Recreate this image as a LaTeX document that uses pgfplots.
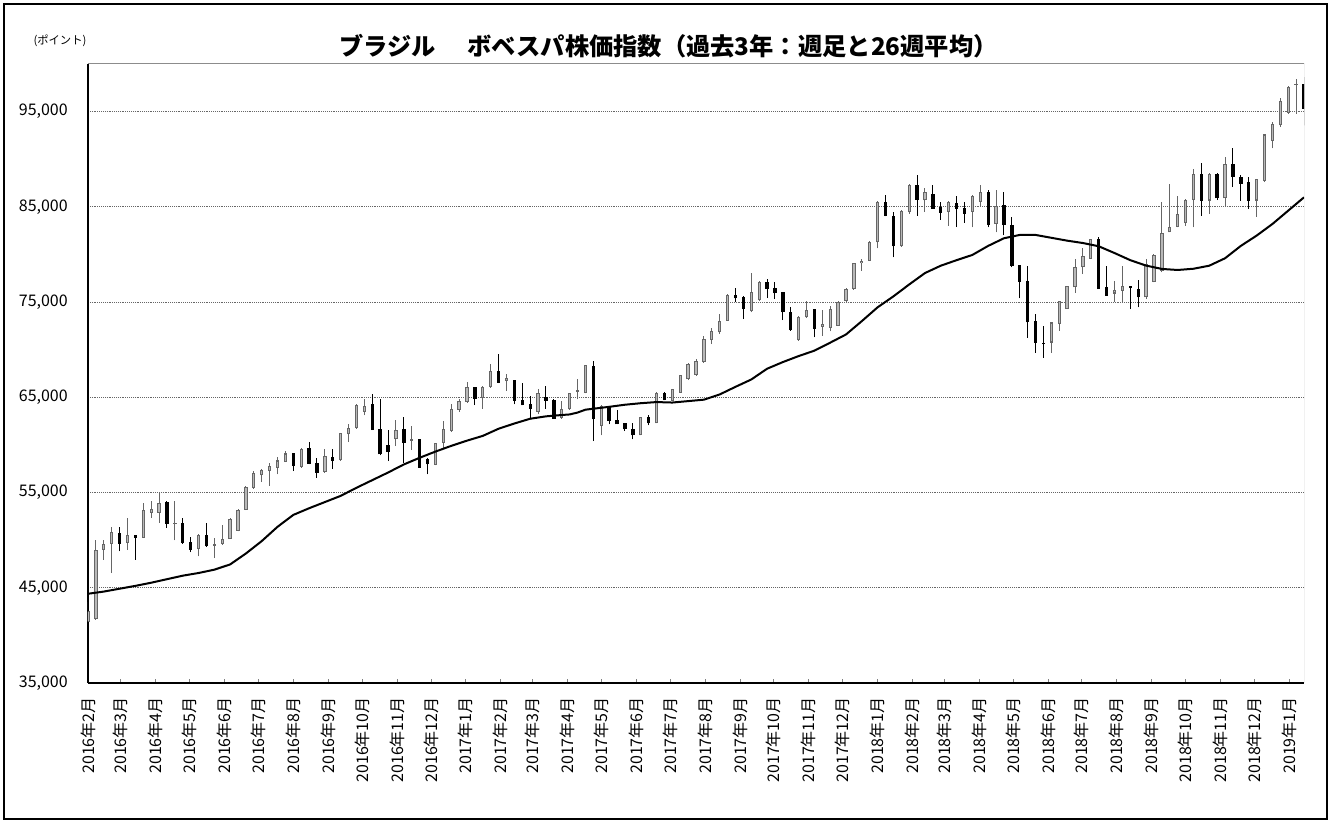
\documentclass[border=0pt]{standalone}
\usepackage{fontspec}
\setmainfont{Noto Sans CJK JP}
\usepackage{pgfplots}
\pgfplotsset{compat=1.18}
\usepackage{pgfplotstable}
\definecolor{upc}{gray}{0.40}
\definecolor{upf}{gray}{0.72}

\pgfplotstableread{
k O H L C
0 41400 43500 41380 42600
1 41700 50050 41630 49000
2 49000 50050 47950 49630
3 49630 51385 46540 50820
5 49700 52300 49000 50580
7 50230 53900 50200 53200
8 52860 54087 52333 53280
9 52860 55034 51806 53910
11 51700 54087 49982 51800
14 49050 50683 48297 50550
16 49420 50227 48122 49630
17 49600 51631 49525 50120
18 50120 52333 50122 52227
19 51000 53280 50930 53200
20 53200 55650 53140 55600
21 55500 57245 55385 57100
22 56800 57490 56087 57350
23 57245 58122 55736 57771
24 57600 58754 56894 58368
25 58200 59350 58193 59100
27 57665 59700 57600 59600
30 57140 59525 57069 58824
32 58400 61280 58298 61210
33 61100 62157 60300 61806
34 61800 64263 61700 64150
35 63500 64790 63100 64100
39 60578 62613 59877 61560
41 60403 61982 59455 60578
44 57900 60227 57841 60200
45 60227 62508 59525 61700
46 61456 64263 61350 63736
47 63700 64790 63456 64600
48 64508 66614 64436 66122
50 64900 66191 63805 66124
51 66121 68472 66000 67770
53 66700 67421 65666 67000
57 63500 65842 63210 65500
60 62860 64614 62754 63807
61 63737 65500 63700 65421
62 65600 66895 64789 65800
63 65491 68400 65400 68368
65 62000 64158 61000 64080
70 61000 62964 61000 62964
72 62263 65561 62263 65491
74 64614 65842 64614 65842
75 65491 67316 65491 67316
76 66895 68649 66800 68474
77 67316 69070 67244 68824
78 68700 71456 68649 71100
79 71000 72263 70579 71982
80 71807 73737 71631 73035
81 73035 75842 73035 75750
84 74018 78035 73912 76018
85 75200 77250 75140 77100
90 71000 73561 70929 73450
91 73386 75070 73316 74158
93 72400 74158 71456 72700
94 72300 74614 71913 74300
95 72509 75140 72509 75000
96 75070 76438 75034 76369
97 76369 79105 76300 79070
98 79070 79527 78298 79351
99 79351 81386 79300 81351
100 81280 85600 80649 85561
103 80860 84700 80800 84614
104 84436 87400 84300 87314
106 85667 86965 84439 86544
109 84436 85664 83032 85489
112 84436 86261 82857 86191
113 85489 87244 84963 86542
115 83211 86717 82330 85140
122 70752 72857 69700 72857
123 72681 75138 71979 75138
124 74260 76716 74260 76716
125 76541 79524 75998 78646
126 78646 80647 77945 79875
127 79524 81629 79524 81629
130 75900 77243 74962 76300
131 76190 78822 74962 76716
134 75500 79524 75313 79000
135 77100 80050 77067 79900
136 78300 85488 78120 82300
137 82330 87419 82330 82930
138 82900 86190 82857 84260
139 83300 85840 83032 85700
140 85700 88998 82857 88470
142 85664 88540 84300 88470
144 85900 90226 85000 89500
148 85664 87945 83981 87900
149 87700 92682 87594 92600
150 91900 93910 91150 93700
151 93559 96480 93384 96121
152 94900 97700 94787 97600
153 97770 98440 94787 97946
}\upt

\pgfplotstableread{
k O H L C
4 50750 51385 48823 49630
6 50580 50580 47950 50230
10 53980 54087 51280 51735
12 51806 52333 49631 49701
13 49770 50333 48718 49000
15 50577 51806 49280 49350
26 59100 59175 57245 57770
28 59700 60300 57945 58000
29 58052 58648 56543 57069
31 58754 59596 57490 58297
36 64263 65385 61560 61560
37 61630 64790 58900 59000
38 59947 61560 58298 59245
40 61700 62964 58122 60227
42 60578 60648 57595 57595
43 58473 58648 56894 57946
49 66086 66086 64190 64857
52 67772 69527 66500 66544
54 66824 66824 64263 64614
55 64719 66544 64158 64158
56 64263 65140 62684 63807
58 65035 66193 63807 64614
59 64719 64800 62754 62754
64 68298 68824 60403 62684
66 64088 64088 62157 62508
67 62613 63666 62157 62157
68 62263 62263 61456 61631
69 61701 62263 60578 61000
71 62964 63105 62052 62263
73 65491 65600 64684 64684
82 75737 76450 75000 75400
83 75491 75600 73210 74263
86 77070 77421 75421 76369
87 76474 77070 75316 75913
88 76018 76018 73105 73912
89 73912 74439 71982 72052
92 74263 74300 71281 72158
101 85561 86263 84000 84018
102 84018 84509 79702 80860
105 87314 88296 84085 85770
107 86368 87316 84789 84789
108 84965 85491 83667 84368
110 85421 86123 82860 84789
111 84860 85561 83316 84263
114 86542 86717 82857 83103
116 85200 86600 82000 83081
117 83102 83910 78646 78822
118 78892 78892 75383 77138
119 77243 78822 71277 72857
120 73032 73734 69699 70752
121 70752 72506 69172 70577
128 81629 81804 76366 76366
129 76541 78822 75664 75664
132 76716 76716 74260 76470
133 76365 77313 74436 75489
141 88470 89594 84085 85664
143 88470 88542 85700 85900
145 89550 91230 87067 88120
146 88120 88296 85664 87419
147 87594 88121 84787 85664
154 97900 98648 93559 95314
}\dnt

\pgfplotstableread{
k M
0 44370
2 44600
4 44900
6 45200
8 45530
10 45900
12 46270
14 46550
16 46900
18 47450
20 48600
22 49900
24 51400
26 52650
28 53350
30 54000
32 54650
34 55500
36 56300
38 57100
40 57950
42 58650
44 59300
46 59900
48 60450
50 60950
52 61700
54 62250
56 62750
58 63000
60 63140
61 63200
62 63400
63 63700
64 63800
66 64000
68 64220
70 64380
72 64500
74 64450
76 64600
78 64750
80 65300
82 66100
84 66870
86 68000
88 68700
90 69330
92 69900
94 70740
96 71600
98 73000
100 74450
102 75600
104 76850
106 78050
108 78820
110 79400
112 79950
114 80900
116 81700
118 82050
120 82050
122 81750
124 81450
126 81200
128 80860
130 80150
132 79400
134 78830
136 78480
138 78370
140 78500
142 78820
144 79600
146 80900
148 81980
150 83200
152 84600
154 86000
}\mat

\begin{document}
\begin{tikzpicture}
\useasboundingbox (0,0) rectangle (998.25pt,617.25pt);
\draw[line width=1.5pt] (3pt,3pt) rectangle (995.25pt,614.25pt);
\node[font=\fontsize{18.2pt}{21pt}\selectfont\bfseries] at (501.4pt,582.75pt) {ブラジル\hspace{1.3em}ボベスパ株価指数（過去3年：週足と26週平均）};
\node[font=\fontsize{8.5pt}{9pt}\selectfont] at (45pt,587pt) {(ポイント)};
\begin{axis}[
  at={(66pt,105pt)}, anchor=south west,
  scale only axis, width=912pt, height=464.25pt,
  xmin=0, xmax=154, ymin=35000, ymax=100000,
  scaled y ticks=false,
  axis x line*=bottom, axis y line*=left,
  axis line style={line width=1.1pt, black},
  ytick={35000,45000,55000,65000,75000,85000,95000},
  yticklabels={{35,000},{45,000},{55,000},{65,000},{75,000},{85,000},{95,000}},
  ymajorgrids,
  major grid style={densely dotted, black!60, line width=0.6pt},
  ytick style={draw=none},
  xtick={0,4.143,8.571,12.857,17.286,21.571,26,30.429,34.714,39.143,43.429,47.857,52.286,56.286,60.714,65,69.429,73.714,78.143,82.571,86.857,91.286,95.571,100,104.429,108.429,112.857,117.143,121.571,125.857,130.286,134.714,139,143.429,147.714,152.143},
  xticklabels={2016年2月,2016年3月,2016年4月,2016年5月,2016年6月,2016年7月,2016年8月,2016年9月,2016年10月,2016年11月,2016年12月,2017年1月,2017年2月,2017年3月,2017年4月,2017年5月,2017年6月,2017年7月,2017年8月,2017年9月,2017年10月,2017年11月,2017年12月,2018年1月,2018年2月,2018年3月,2018年4月,2018年5月,2018年6月,2018年7月,2018年8月,2018年9月,2018年10月,2018年11月,2018年12月,2019年1月},
  tick align=inside, major tick length=3pt,
  xtick style={black!50, line width=0.6pt},
  tick label style={font=\fontsize{12pt}{14pt}\selectfont},
  xticklabel style={rotate=90, anchor=east, inner sep=0pt},
  xticklabel shift=10.5pt,
  yticklabel style={inner sep=0pt},
  yticklabel shift=15pt,
  candle/.style={draw=none, mark=none, forget plot, error bars/.cd, y dir=plus, y explicit, error mark=none},
]
% up wicks
\addplot[candle, error bar style={line width=0.75pt, draw=upc, solid}]
  table[x=k, y=L, y error plus expr=\thisrow{H}-\thisrow{L}] {\upt};
% down wicks
\addplot[candle, error bar style={line width=0.75pt, draw=black, solid}]
  table[x=k, y=L, y error plus expr=\thisrow{H}-\thisrow{L}] {\dnt};
% up bodies
\addplot[candle, error bar style={line width=2.5pt, draw=upc, solid}]
  table[x=k, y=O, y error plus expr=\thisrow{C}-\thisrow{O}] {\upt};
\addplot[candle, error bar style={line width=1.0pt, draw=upf, solid}]
  table[x=k, y expr=\thisrow{O}+110, y error plus expr={max(\thisrow{C}-\thisrow{O}-220,0)}] {\upt};
% down bodies
\addplot[candle, error bar style={line width=2.5pt, draw=black, solid}]
  table[x=k, y=C, y error plus expr=\thisrow{O}-\thisrow{C}] {\dnt};
% 26-week average
\addplot[black, line width=1.5pt, mark=none] table[x=k, y=M] {\mat};
\draw[black!45, line width=0.75pt] (rel axis cs:0,1) -- (rel axis cs:1,1) -- (rel axis cs:1,0);
\end{axis}
\end{tikzpicture}
\end{document}
